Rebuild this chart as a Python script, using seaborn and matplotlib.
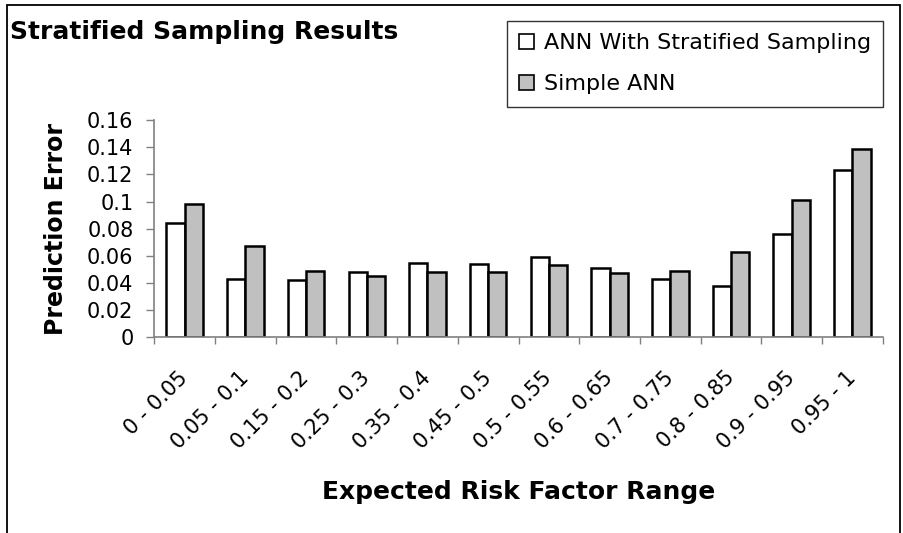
import matplotlib
matplotlib.use("Agg")
import matplotlib.pyplot as plt
from matplotlib.patches import Rectangle
from matplotlib.transforms import ScaledTranslation
import seaborn as sns
import pandas as pd

# Expected risk factor bins
ranges = ["0 - 0.05", "0.05 - 0.1", "0.15 - 0.2", "0.25 - 0.3", "0.35 - 0.4",
          "0.45 - 0.5", "0.5 - 0.55", "0.6 - 0.65", "0.7 - 0.75", "0.8 - 0.85",
          "0.9 - 0.95", "0.95 - 1"]

# Prediction error per bin for each model
stratified = [0.084, 0.043, 0.042, 0.048, 0.055, 0.054, 0.059, 0.051, 0.043,
              0.038, 0.076, 0.123]
simple = [0.098, 0.067, 0.049, 0.045, 0.048, 0.048, 0.053, 0.047, 0.049,
          0.063, 0.101, 0.139]

series_names = ["ANN With Stratified Sampling", "Simple ANN"]
y_ticks = [0, 0.02, 0.04, 0.06, 0.08, 0.1, 0.12, 0.14, 0.16]

df = pd.DataFrame({
    "range": ranges * 2,
    "error": stratified + simple,
    "model": [series_names[0]] * len(ranges) + [series_names[1]] * len(ranges),
})

sns.set_theme(style="white")
plt.rcParams["font.family"] = ["DejaVu Sans"]
plt.rcParams["text.color"] = "black"
plt.rcParams["axes.labelcolor"] = "black"
plt.rcParams["xtick.color"] = "black"
plt.rcParams["ytick.color"] = "black"

fig = plt.figure(figsize=(9.04, 5.33), dpi=100)
ax = fig.add_axes([0.1707, 0.3677, 0.8058, 0.4066])

sns.barplot(data=df, x="range", y="error", hue="model", order=ranges,
            hue_order=series_names, palette=["white", "#C0C0C0"],
            edgecolor="black", linewidth=1.8, width=0.6, gap=0,
            saturation=1, ax=ax, legend=True)

ax.set_xlim(-0.5, len(ranges) - 0.5)
ax.set_ylim(0, 0.16)
ax.set_yticks(y_ticks)
ax.set_yticklabels([f"{v:g}" for v in y_ticks], fontsize=15, color="black")

# category labels at centres, tick marks on the bin boundaries
ax.set_xticks(range(len(ranges)))
ax.set_xticklabels(ranges, rotation=45, ha="right", va="center",
                   rotation_mode="anchor", fontsize=15, color="black")
shift = ScaledTranslation(15 / 100, 0, fig.dpi_scale_trans)
for lbl in ax.get_xticklabels():
    lbl.set_transform(lbl.get_transform() + shift)
ax.set_xticks([i - 0.5 for i in range(len(ranges) + 1)], minor=True)
ax.tick_params(axis="x", which="major", length=0, pad=27)
ax.tick_params(axis="x", which="minor", length=5, width=1, color="#808080",
               direction="out", bottom=True)
ax.tick_params(axis="y", which="major", length=6, width=1, color="#808080",
               direction="out", left=True, pad=9, labelcolor="black")

for side in ("top", "right"):
    ax.spines[side].set_visible(False)
for side in ("left", "bottom"):
    ax.spines[side].set_color("#808080")
    ax.spines[side].set_linewidth(1.2)

ax.set_xlabel("Expected Risk Factor Range", fontsize=18, fontweight="bold",
              labelpad=20, color="black")
ax.set_ylabel("Prediction Error", fontsize=17, fontweight="bold",
              labelpad=14, color="black")

fig.text(10 / 904, 1 - 32 / 533, "Stratified Sampling Results", fontsize=18,
         fontweight="bold", ha="left", va="center", color="black")

handles, labels = ax.get_legend_handles_labels()
ax.legend_.remove()
leg = fig.legend(handles, labels, loc="upper left",
                 bbox_to_anchor=(507 / 904, 1 - 21 / 533),
                 bbox_transform=fig.transFigure, fontsize=16, frameon=True,
                 fancybox=False, shadow=False, borderpad=0.55,
                 labelspacing=0.95, handlelength=0.65, handleheight=0.65,
                 handletextpad=0.45, borderaxespad=0, labelcolor="black")
leg.get_frame().set_edgecolor("black")
leg.get_frame().set_linewidth(1.0)
for h in leg.legend_handles:
    h.set_linewidth(1.2)
    h.set_edgecolor("black")

# outer chart border (open at the bottom)
fig.add_artist(Rectangle((7 / 904, -0.1), (900 - 7) / 904, 1.1 - 5 / 533,
                         transform=fig.transFigure, fill=False,
                         edgecolor="black", linewidth=1.3))

fig.savefig("out.png", dpi=100)
